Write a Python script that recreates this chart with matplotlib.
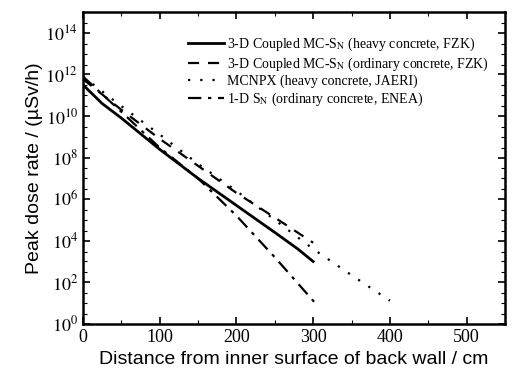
import matplotlib
matplotlib.use("Agg")
import matplotlib.pyplot as plt
from matplotlib.ticker import LogLocator, FixedLocator, MultipleLocator, NullFormatter

# distance (cm) and peak dose rate (uSv/h)
x_heavy_fzk = [0, 25, 50, 100, 150, 200, 250, 280, 300]
y_heavy_fzk = [3.2e11, 4e10, 8e9, 2.5e8, 1e7, 5e5, 2.5e4, 4e3, 1e3]

x_ord_fzk = [0, 50, 100, 150, 200, 250, 300]
y_ord_fzk = [6e11, 2e10, 8e8, 4e7, 2e6, 1.3e5, 8e3]

x_mcnpx = [0, 50, 100, 150, 200, 250, 300, 350, 400]
y_mcnpx = [8e11, 3e10, 1.3e9, 5e7, 2.5e6, 1e5, 4e3, 2.2e2, 1.3e1]

x_enea = [0, 50, 100, 150, 200, 250, 305]
y_enea = [8e11, 1.6e10, 3e8, 1e7, 1.6e5, 1.6e3, 8]

labels = [r'3-D Coupled MC-S$_{\rm N}$ (heavy concrete, FZK)',
          r'3-D Coupled MC-S$_{\rm N}$ (ordinary concrete, FZK)',
          'MCNPX (heavy concrete, JAERI)',
          r'1-D S$_{\rm N}$ (ordinary concrete, ENEA)']

plt.rcParams['mathtext.fontset'] = 'stix'

fig = plt.figure(figsize=(5.18, 3.77), dpi=100)
ax = fig.add_axes([0.160, 0.141, 0.815, 0.827])

ax.plot(x_heavy_fzk, y_heavy_fzk, color='black', lw=2.0, ls='-', label=labels[0])
ax.plot(x_ord_fzk, y_ord_fzk, color='black', lw=1.6, ls=(0, (5, 4)), label=labels[1])
ax.plot(x_mcnpx, y_mcnpx, color='black', lw=1.6, ls=(0, (1, 4.5)), label=labels[2])
ax.plot(x_enea, y_enea, color='black', lw=1.6, ls=(0, (6, 3, 1.5, 3)), label=labels[3])

ax.set_yscale('log')
ax.set_xlim(0, 550)
ax.set_ylim(1, 1e15)

ax.xaxis.set_major_locator(FixedLocator([0, 100, 200, 300, 400, 500]))
ax.xaxis.set_minor_locator(MultipleLocator(50))
ax.yaxis.set_major_locator(FixedLocator([10.0**k for k in range(0, 15, 2)]))
ax.yaxis.set_minor_locator(LogLocator(base=10, subs=(1.0, 3.0), numticks=40))
ax.yaxis.set_minor_formatter(NullFormatter())
ax.set_yticklabels([r'$10^{%d}$' % k for k in range(0, 15, 2)])

ax.tick_params(which='both', direction='in', top=True, right=True)
ax.tick_params(which='major', length=5, width=1.2)
ax.tick_params(which='minor', length=3, width=0.8)
ax.tick_params(axis='both', labelsize=13)
for lab in ax.get_xticklabels():
    lab.set_family('Liberation Serif')
for s in ax.spines.values():
    s.set_linewidth(1.8)

ax.set_xlabel('Distance from inner surface of back wall / cm',
              family='Liberation Sans', fontsize=14, labelpad=4)
ax.set_ylabel('Peak dose rate / (\u00b5Sv/h)', family='Liberation Sans',
              fontsize=14, labelpad=2)

leg = ax.legend(loc='upper right', frameon=False,
                prop={'family': 'Liberation Serif', 'size': 10},
                handlelength=2.6, handletextpad=0.2, labelspacing=0.15,
                borderaxespad=0.3, bbox_to_anchor=(0.985, 0.955))

fig.savefig('out.png', dpi=100)
